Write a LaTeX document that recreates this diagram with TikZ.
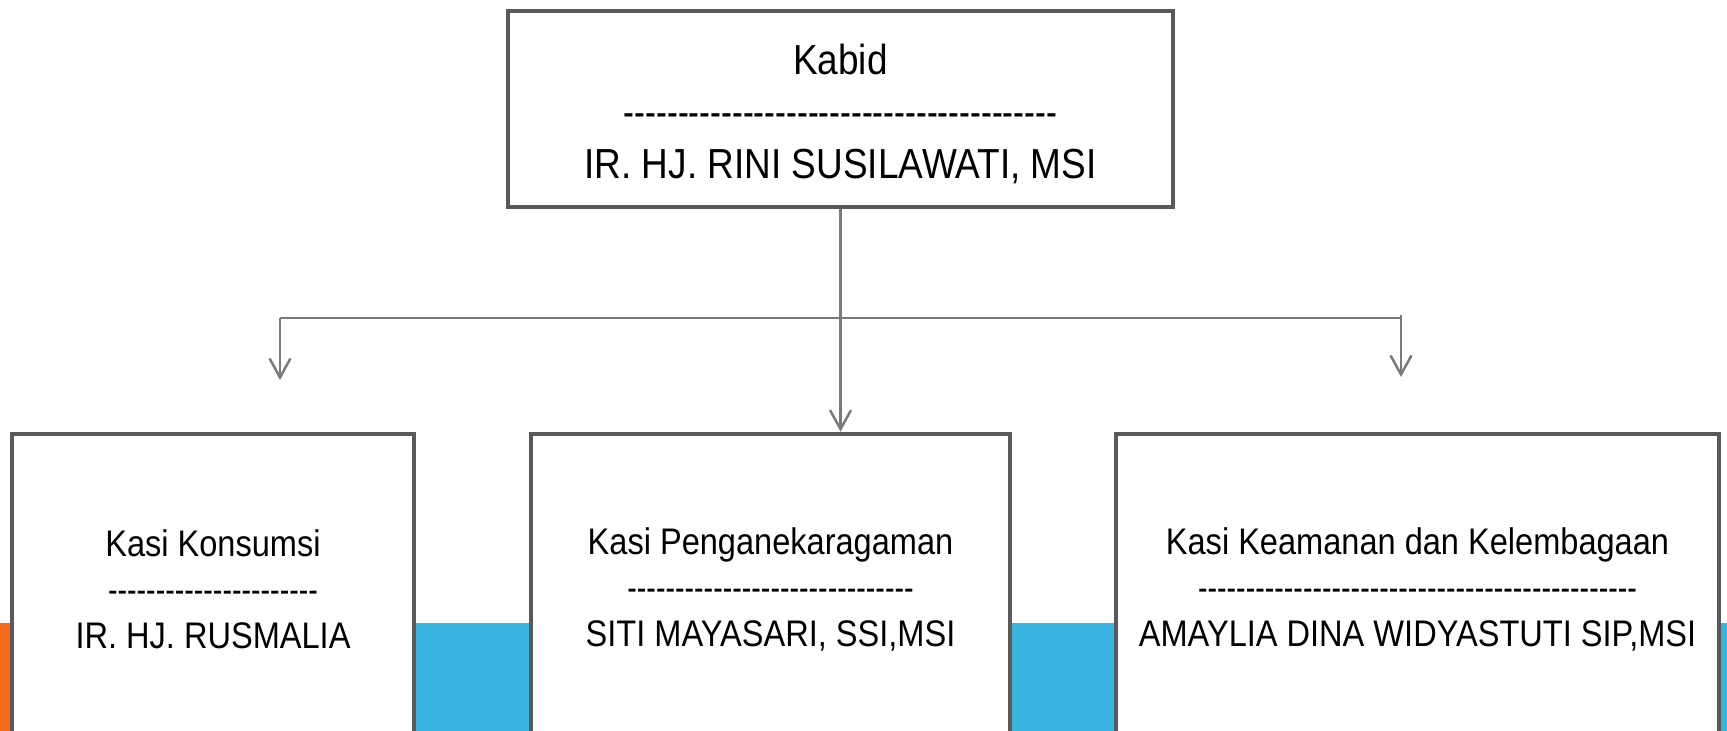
\documentclass[tikz,border=0pt]{standalone}
\usepackage{fontspec}
\setmainfont{Liberation Sans}[FakeStretch=0.88,Ligatures=TeXOff]
\usepackage{graphicx}
\usepackage{xcolor}
\usetikzlibrary{arrows.meta}

\definecolor{bandblue}{HTML}{39B3E0}
\definecolor{bandorange}{HTML}{F5691E}
\definecolor{boxgray}{HTML}{595959}
\definecolor{linkgray}{HTML}{7A7A7C}
\newcommand{\garis}[1]{\scalebox{0.88}[1]{#1}}

\begin{document}
\begin{tikzpicture}[
  x=0.5pt,y=0.5pt,
  jabatan/.style={draw=boxgray,line width=2.25pt,fill=white,align=center,inner sep=0pt},
  kepala/.style={jabatan,minimum width=332.5pt,minimum height=98pt,
    font=\fontsize{21}{26}\selectfont},
  seksi/.style={jabatan,minimum height=155pt,font=\fontsize{18.5}{23}\selectfont},
  link/.style={draw=linkgray,line width=1.25pt},
  turun/.style={link,-{Straight Barb[length=9.5pt,width=10.5pt,line width=1.25pt]}}]

  \useasboundingbox (0,0) rectangle (1727,731);
  % background band
  \fill[bandorange] (0,0) rectangle (12,108);
  \fill[bandblue] (12,0) rectangle (1727,108);

  \node[kepala] (kabid) at (840.5,622)
    {\rule{0pt}{20pt}Kabid\\ \garis{----------------------------------------}\\ IR. HJ. RINI SUSILAWATI, MSI};

  \node[seksi,minimum width=201pt] (konsumsi) at (213,142)
    {Kasi Konsumsi\\ \garis{----------------------}\\ IR. HJ. RUSMALIA};
  \node[seksi,minimum width=239.5pt] (ragam) at (770.5,142)
    {Kasi Penganekaragaman\\ \garis{------------------------------}\\ SITI MAYASARI, SSI,MSI};
  \node[seksi,minimum width=301.5pt] (aman) at (1417.5,142)
    {Kasi Keamanan dan Kelembagaan\\ \garis{----------------------------------------------}\\ AMAYLIA DINA WIDYASTUTI SIP,MSI};

  % connectors
  \coordinate (kiri) at (280,413);
  \coordinate (kanan) at (1401,413);
  \coordinate (kiriend) at (280,351);
  \coordinate (kananend) at (1401,354);
  \draw[turun] (kabid.south) -- (kabid.south |- ragam.north);
  \draw[link] (kiri) -- (kanan);
  \draw[turun] (kiri) -- (kiriend);
  \draw[turun] (kanan) ++(0,3) -- (kananend);
\end{tikzpicture}
\end{document}
